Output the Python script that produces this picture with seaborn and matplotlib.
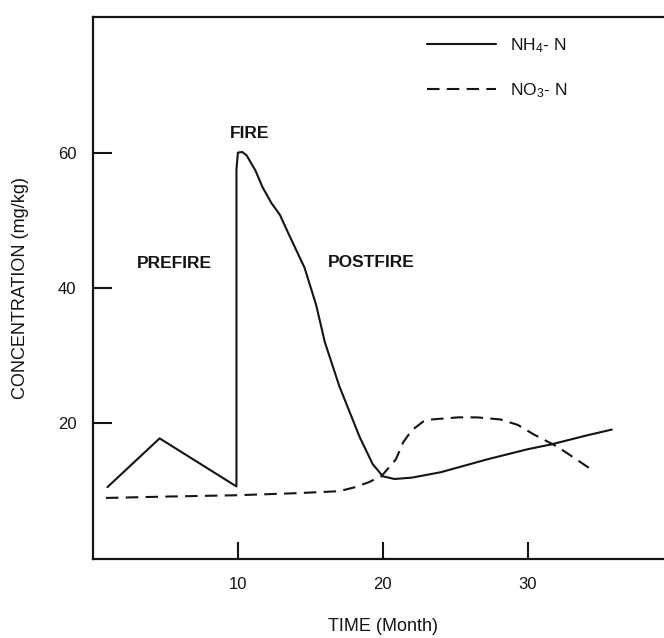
import matplotlib
matplotlib.use("Agg")
import matplotlib.pyplot as plt
import seaborn as sns
import pandas as pd
from matplotlib.lines import Line2D

# NH4-N concentration (mg/kg) over time (months)
nh4_month = [1.0, 4.6, 9.9, 9.9, 10.0, 10.3, 10.6, 11.2, 11.7, 12.3, 12.9, 13.5,
             14.6, 15.4, 16.0, 17.0, 18.4, 19.3, 20.0, 20.8, 22.0, 24.0, 27.2,
             30.0, 31.6, 34.0, 35.8]
nh4_conc = [10.6, 17.8, 10.7, 57.5, 60.0, 60.1, 59.6, 57.4, 54.9, 52.6, 50.8, 48.0,
            43.0, 37.5, 32.0, 25.5, 18.0, 14.0, 12.2, 11.8, 12.0, 12.8, 14.7,
            16.2, 16.9, 18.2, 19.1]

# NO3-N concentration (mg/kg) over time (months)
no3_month = [0.9, 5.0, 9.9, 14.0, 17.0, 18.1, 19.0, 19.9, 20.9, 21.4, 22.0, 22.8,
             23.4, 25.2, 26.5, 28.1, 29.3, 30.4, 32.1, 34.6]
no3_conc = [9.0, 9.2, 9.4, 9.7, 10.0, 10.6, 11.3, 12.2, 14.7, 17.2, 19.0, 20.3,
            20.6, 20.9, 20.9, 20.6, 19.8, 18.4, 16.5, 12.9]

x_ticks = [10, 20, 30]
y_ticks = [20, 40, 60]
series_labels = ["NH$_4$- N", "NO$_3$- N"]
phase_labels = ["PREFIRE", "FIRE", "POSTFIRE"]
phase_pos = [(5.6, 43.7), (10.8, 62.9), (19.2, 43.8)]

sns.set_theme(style="white")
plt.rcParams["font.family"] = ["Liberation Sans", "DejaVu Sans"]
plt.rcParams["mathtext.fontset"] = "custom"
plt.rcParams["mathtext.rm"] = "Liberation Sans"
plt.rcParams["mathtext.it"] = "Liberation Sans:italic"
plt.rcParams["mathtext.bf"] = "Liberation Sans:bold"

ink = "#141414"
lw = 1.5
dash = (6, 3.5)

fig = plt.figure(figsize=(6.64, 6.38), dpi=100)
ax = fig.add_axes([0.140, 0.124, 0.860, 0.849])

nh4 = pd.DataFrame({"month": nh4_month, "conc": nh4_conc})
no3 = pd.DataFrame({"month": no3_month, "conc": no3_conc})

sns.lineplot(data=nh4, x="month", y="conc", sort=False, estimator=None,
             color=ink, linewidth=lw, ax=ax)
sns.lineplot(data=no3, x="month", y="conc", sort=False, estimator=None,
             color=ink, linewidth=lw, ax=ax)
ax.lines[1].set_dashes(dash)

ax.set_xlim(0, 39.4)
ax.set_ylim(0, 80)
ax.set_xticks(x_ticks)
ax.set_yticks(y_ticks)
ax.tick_params(axis="both", direction="in", colors=ink, labelcolor=ink,
               labelsize=12, width=1.5, bottom=True, left=True,
               top=False, right=False)
ax.tick_params(axis="x", length=12, pad=13)
ax.tick_params(axis="y", length=14, pad=12)

for side in ["left", "top", "bottom"]:
    ax.spines[side].set_visible(True)
    ax.spines[side].set_color(ink)
    ax.spines[side].set_linewidth(1.6)
ax.spines["right"].set_visible(False)

ax.set_xlabel("TIME (Month)", fontsize=13, color=ink)
ax.set_ylabel("CONCENTRATION (mg/kg)", fontsize=13, color=ink)
ax.xaxis.set_label_coords(0.508, -0.110)
ax.yaxis.set_label_coords(-0.112, 0.5)

for text, (px, py) in zip(phase_labels, phase_pos):
    ax.text(px, py, text, ha="center", va="center", fontsize=12.5,
            fontweight="bold", color=ink)

handles = [Line2D([], [], color=ink, linewidth=lw),
           Line2D([], [], color=ink, linewidth=lw, dashes=dash)]
ax.legend(handles, series_labels, loc="upper left",
          bbox_to_anchor=(0.585, 0.965), frameon=False, fontsize=12.5,
          handlelength=4.0, handletextpad=0.8, labelspacing=1.5,
          borderpad=0, borderaxespad=0, labelcolor=ink)

fig.savefig("out.png", dpi=100, facecolor="white")
